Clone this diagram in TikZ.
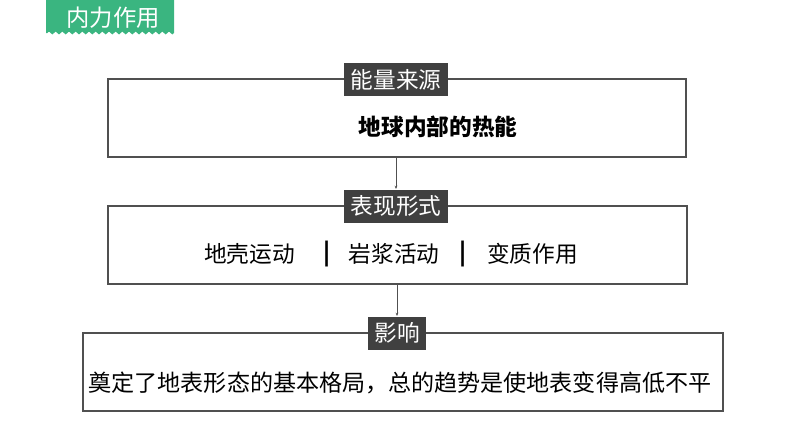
\documentclass[tikz,border=0pt]{standalone}
\usepackage{fontspec}
\setmainfont{Noto Sans CJK SC}
\usetikzlibrary{arrows.meta,decorations.pathmorphing}

\definecolor{tabgreen}{RGB}{58,181,128}
\definecolor{labgray}{RGB}{64,64,64}
\definecolor{linegray}{RGB}{80,80,80}

\tikzset{every picture/.style={line width=0.75pt},
  box/.style={draw=linegray,line width=0.9pt,inner sep=0pt,minimum height=58.5pt},
  tag/.style={fill=labgray,text=white,inner xsep=5pt,inner ysep=0pt,minimum height=24.75pt,font=\fontsize{17}{17}\selectfont},
  body/.style={inner sep=0.75pt,font=\fontsize{17}{17}\selectfont},
  link/.style={draw=linegray,line width=0.5pt,-{Stealth[length=2.5pt,width=2pt]}}}

\begin{document}
\begin{tikzpicture}[x=0.75pt,y=0.75pt,yscale=-1,xscale=1]
\useasboundingbox (0,0) rectangle (794,447); %set diagram 794 x 447

%Shape: Tab [id:tab]
\fill [tabgreen,decoration={zigzag,segment length=5pt,amplitude=1.1pt}] (46,0) -- (174,0) -- (174,33) decorate {-- (46,33)} -- cycle ;
% Text Node
\node (tab) at (113,18) [inner sep=0.75pt,text=white,font=\fontsize{17.5}{17.5}\selectfont] {内力作用};

%Shape: Rectangle [id:srcbox]
\node (srcbox) at (397,118) [box,minimum width=433.5pt] {};
%Shape: Rectangle [id:formbox]
\node (formbox) at (397.5,245) [box,minimum width=434.25pt] {};
%Shape: Rectangle [id:effbox]
\node (effbox) at (403,372) [box,minimum width=480pt] {};

% Tag Nodes
\node (srctag) at (396,79.5) [tag] {能量来源};
\node (formtag) at (396,206) [tag] {表现形式};
\node (efftag) at (397,333) [tag] {影响};

%Straight Lines [id:links]
\draw [link] (srcbox.south -| formtag.north) -- (formtag.north) ;
\draw [link] (formbox.south -| efftag.north) -- (efftag.north) ;

% Text Node
\node (heat) at (438,127) [body] {\bfseries 地球内部的热能};
% Text Node
\node (crust) at (249.5,254) [body] {地壳运动};
\node (sepa) at (327,254) [body] {\bfseries |};
\node (magma) at (394,254) [body] {岩浆活动};
\node (sepb) at (463,254) [body] {\bfseries |};
\node (meta) at (532.5,254) [body] {变质作用};
% Text Node
\node (result) at (400,383) [body,font=\fontsize{17.3}{17.3}\selectfont] {奠定了地表形态的基本格局，总的趋势是使地表变得高低不平};

\end{tikzpicture}
\end{document}
